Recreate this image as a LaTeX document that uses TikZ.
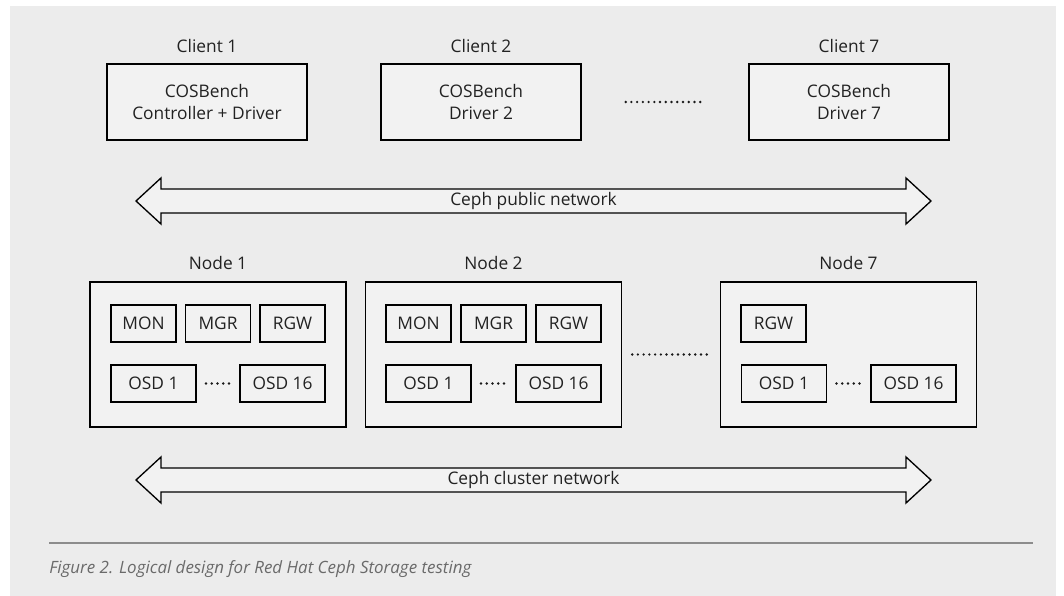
\documentclass[tikz,border=0pt]{standalone}
\usepackage{fontspec}
\setmainfont{Open Sans}
\definecolor{bggray}{HTML}{ECECEC}
\definecolor{boxfill}{HTML}{F2F2F2}
\definecolor{txt}{HTML}{222222}
\definecolor{captxt}{HTML}{6A6A6A}
\definecolor{rulegray}{HTML}{8C8C8C}
\tikzset{
  base/.style={font=\fontsize{13}{16.5}\selectfont, text=txt},
  clientbox/.style={base, draw=black, line width=1pt, fill=boxfill, minimum width=150pt, minimum height=57pt, align=center, inner sep=0pt},
  hostbox/.style={draw=black, line width=1pt, fill=boxfill, minimum width=192pt, minimum height=108.75pt, inner sep=0pt},
  svcbox/.style={base, draw=black, line width=1pt, fill=boxfill, minimum width=48.75pt, minimum height=27.75pt, inner sep=0pt},
  osdbox/.style={base, draw=black, line width=1pt, fill=boxfill, minimum width=63.75pt, minimum height=27.75pt, inner sep=0pt},
  lbl/.style={base},
  dotline/.style={line width=2pt, line cap=round, dash pattern=on 0pt off 4.3pt, draw=black!90},
  netarrow/.style={draw=black, line width=1pt, fill=boxfill, line join=miter},
}
\begin{document}
\begin{tikzpicture}[x=0.75pt, y=-0.75pt]
\useasboundingbox (0,0) rectangle (1064,596);
\fill[white] (0,0) rectangle (1064,596);
\fill[bggray] (10,6) rectangle (1056,596);

% Clients
\node[clientbox] (c1) at (207,102) {COSBench\\Controller + Driver};
\node[clientbox] (c2) at (481,102) {COSBench\\Driver 2};
\node[clientbox] (c7) at (849,102) {COSBench\\Driver 7};
\node[lbl] (c1l) at (207,46) {Client 1};
\node[lbl] (c2l) at (481,46) {Client 2};
\node[lbl] (c7l) at (849,46) {Client 7};
\draw[dotline, shorten <=33pt, shorten >=32pt] (c2.east) -- (c7.west);

% Public network arrow
\draw[netarrow] (136,201) -- (161,178) -- (161,189) -- (906,189) -- (906,178) -- (931,201) -- (906,224) -- (906,213) -- (161,213) -- (161,224) -- cycle;
\node[lbl] (pub) at (533.5,201) {Ceph public network};

% Nodes
\node[hostbox] (n1) at (218,354.5) {};
\node[hostbox] (n2) at (493.5,354.5) {};
\node[hostbox] (n7) at (848.5,354.5) {};
\node[lbl] (n1l) at (218,263) {Node 1};
\node[lbl] (n2l) at (493.5,263) {Node 2};
\node[lbl] (n7l) at (848.5,263) {Node 7};
\draw[dotline, shorten <=7.5pt, shorten >=7pt] (n2.east) -- (n7.west);

% Node 1 services
\node[svcbox] (n1mon) at (143.5,323.5) {MON};
\node[svcbox] (n1mgr) at (218,323.5) {MGR};
\node[svcbox] (n1rgw) at (292.5,323.5) {RGW};
\node[osdbox] (n1o1) at (153.5,383.5) {OSD 1};
\node[osdbox] (n1o16) at (282.5,383.5) {OSD 16};
\draw[dotline, shorten <=7pt, shorten >=7.5pt] (n1o1.east) -- (n1o16.west);

% Node 2 services
\node[svcbox] (n2mon) at (418.5,323.5) {MON};
\node[svcbox] (n2mgr) at (493.5,323.5) {MGR};
\node[svcbox] (n2rgw) at (568.5,323.5) {RGW};
\node[osdbox] (n2o1) at (428.5,383.5) {OSD 1};
\node[osdbox] (n2o16) at (558.5,383.5) {OSD 16};
\draw[dotline, shorten <=7pt, shorten >=7.5pt] (n2o1.east) -- (n2o16.west);

% Node 7 services
\node[svcbox] (n7rgw) at (773.5,323.5) {RGW};
\node[osdbox] (n7o1) at (784,383.5) {OSD 1};
\node[osdbox] (n7o16) at (913.5,383.5) {OSD 16};
\draw[dotline, shorten <=7pt, shorten >=7.5pt] (n7o1.east) -- (n7o16.west);

% Cluster network arrow
\draw[netarrow] (136,480) -- (161,457) -- (161,468) -- (906,468) -- (906,457) -- (931,480) -- (906,503) -- (906,492) -- (161,492) -- (161,503) -- cycle;
\node[lbl] (clu) at (533.5,480) {Ceph cluster network};

% Caption
\coordinate (rl) at (49,543);
\coordinate (rr) at (1033,543);
\draw[rulegray, line width=1.2pt] (rl) -- (rr);
\node[anchor=west, inner sep=0pt, font=\fontsize{12.7}{15}\selectfont\itshape, text=captxt] (cap) at (49,569) {Figure 2. Logical design for Red Hat Ceph Storage testing};
\end{tikzpicture}
\end{document}
